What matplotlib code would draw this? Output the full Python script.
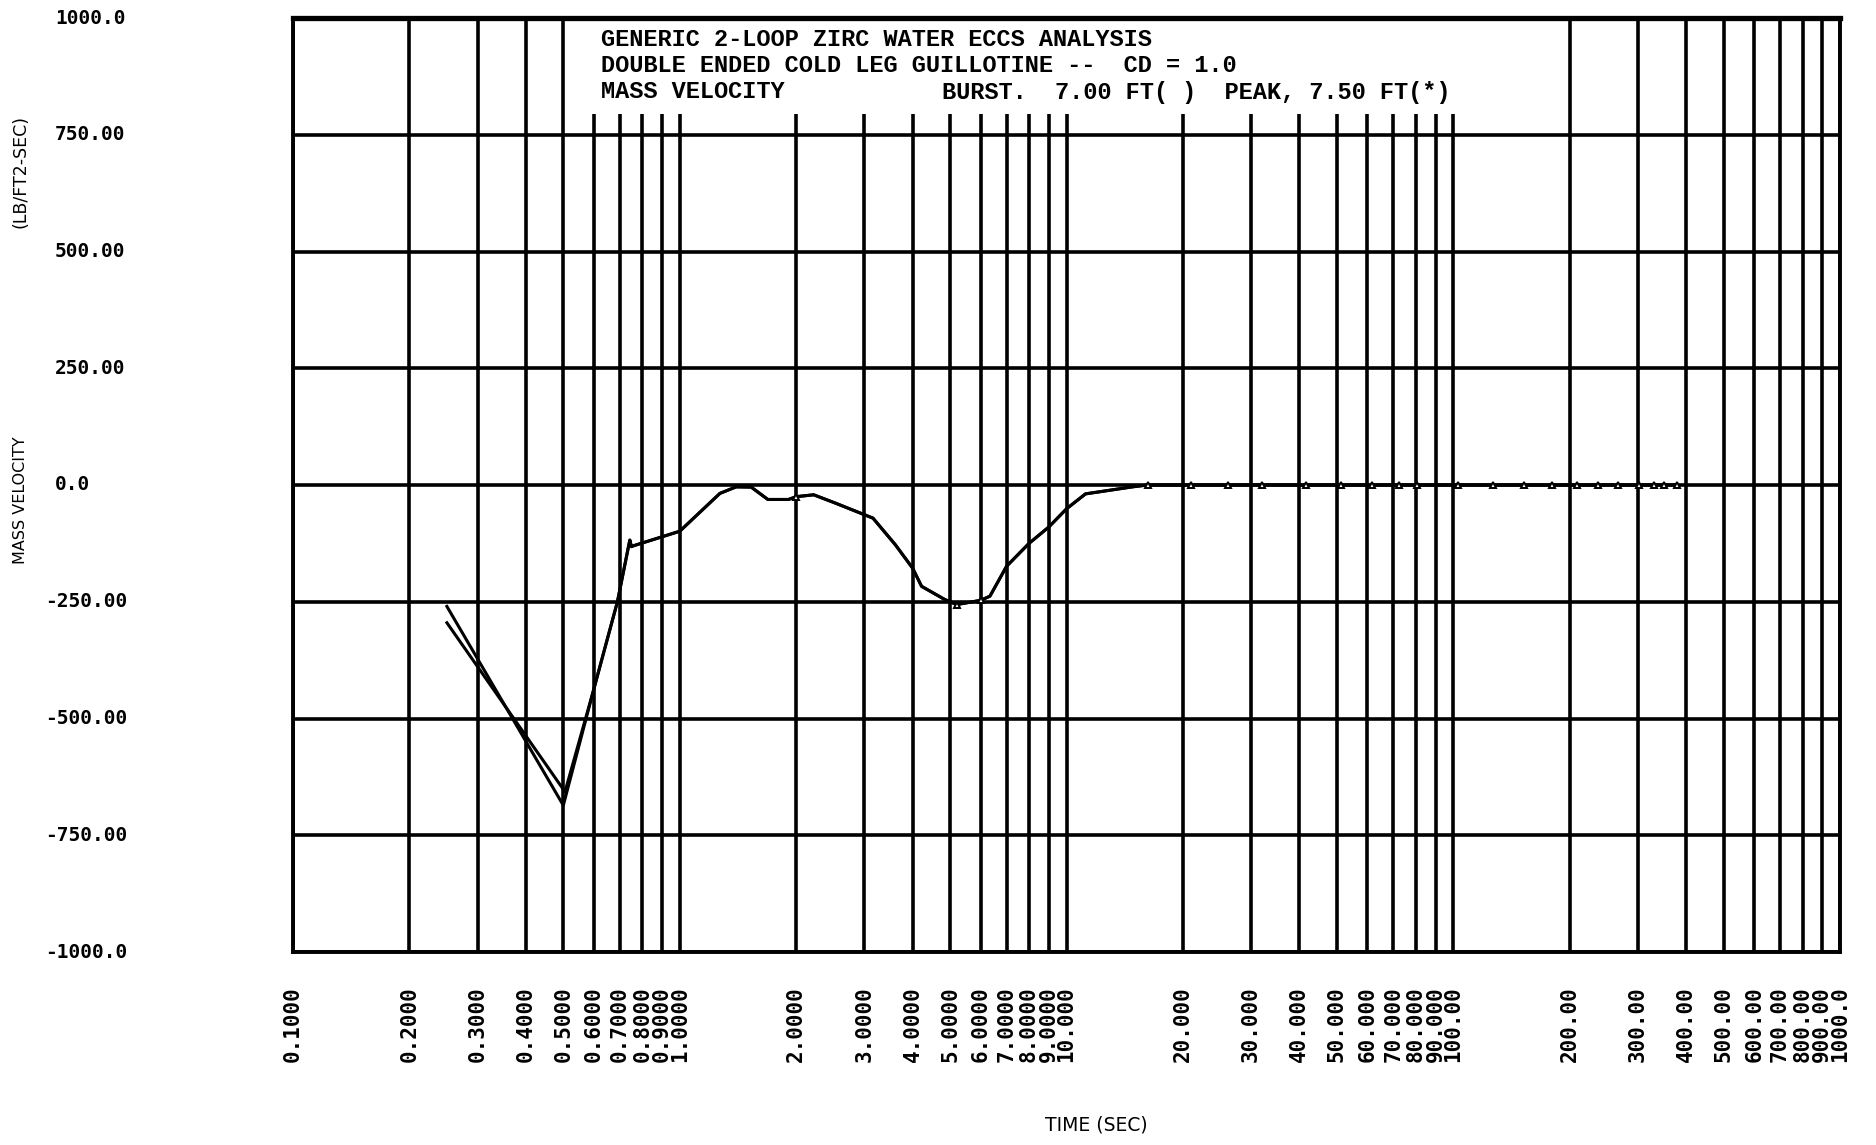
import matplotlib
matplotlib.use('Agg')
import matplotlib.pyplot as plt
import matplotlib.transforms as mtransforms
from matplotlib.patches import Rectangle
from matplotlib.ticker import NullLocator

# axis ticks
time_ticks = [0.1, 0.2, 0.3, 0.4, 0.5, 0.6, 0.7, 0.8, 0.9,
              1.0, 2.0, 3.0, 4.0, 5.0, 6.0, 7.0, 8.0, 9.0,
              10.0, 20.0, 30.0, 40.0, 50.0, 60.0, 70.0, 80.0, 90.0,
              100.0, 200.0, 300.0, 400.0, 500.0, 600.0, 700.0, 800.0, 900.0, 1000.0]
time_labels = ['0.1000', '0.2000', '0.3000', '0.4000', '0.5000', '0.6000', '0.7000', '0.8000', '0.9000',
               '1.0000', '2.0000', '3.0000', '4.0000', '5.0000', '6.0000', '7.0000', '8.0000', '9.0000',
               '10.000', '20.000', '30.000', '40.000', '50.000', '60.000', '70.000', '80.000', '90.000',
               '100.00', '200.00', '300.00', '400.00', '500.00', '600.00', '700.00', '800.00', '900.00', '1000.0']
vel_ticks = [1000, 750, 500, 250, 0, -250, -500, -750, -1000]
vel_labels = ['1000.0', '750.00', '500.00', '250.00', '0.0', '-250.00', '-500.00', '-750.00', '-1000.0']

# start of the two curves (they split only in the first half second)
burst_start_t = [0.25, 0.50]
burst_start_g = [-260, -686]
peak_start_t = [0.25, 0.505]
peak_start_g = [-295, -657]

# common part of both curves
common_t = [0.6, 0.665, 0.69, 0.739, 0.743, 0.75, 0.76, 1.0, 1.27, 1.37, 1.40, 1.53, 1.69, 1.91,
            2.0, 2.22, 2.53, 3.16, 3.61, 4.0, 4.22, 4.84, 5.0, 5.2, 6.0, 6.34, 7.0, 8.0, 9.0,
            10.0, 11.2, 14.8,
            16.2, 21.0, 26.1, 32.1, 41.5, 51.3, 61.5, 72.6, 80.7, 102.8, 127, 152, 180,
            209, 237, 267, 302, 330, 351, 378]
common_g = [-436, -299, -250, -127, -118, -132, -130, -99, -18, -7, -4, -4.5, -31, -31,
            -25, -21, -39, -71, -128, -178, -217, -245, -250, -256, -247, -238, -174, -125, -90,
            -51, -19, -4,
            0, 0, 0, 0, 0, 0, 0, 0, 0, 0, 0, 0, 0,
            0, 0, 0, 0, 0, 0, 0]
# times where the peak curve symbol shows
peak_symbol_t = [2.0, 5.2, 6.0, 16.2, 21.0, 26.1, 32.1, 41.5, 51.3, 61.5, 72.6, 80.7,
                 102.8, 127, 152, 180, 209, 237, 267, 302, 330, 351, 378]

burst_t = burst_start_t + common_t
burst_g = burst_start_g + common_g
peak_t = peak_start_t + common_t
peak_g = peak_start_g + common_g
mark_idx = [i for i, t in enumerate(peak_t) if t in peak_symbol_t]

mono = ['DejaVu Sans Mono']
title_font = ['Liberation Mono', 'DejaVu Sans Mono']

fig = plt.figure(figsize=(18.76, 11.45), dpi=100)
ax = fig.add_axes([293 / 1876, 1 - 952 / 1145, (1840 - 293) / 1876, (952 - 18) / 1145])

ax.set_xscale('log')
ax.set_xlim(0.1, 1000)
ax.set_ylim(-1000, 1000)
ax.set_xticks(time_ticks)
ax.set_xticklabels(time_labels, rotation=90, family=mono, fontsize=15, fontweight='bold')
ax.xaxis.set_minor_locator(NullLocator())
ax.set_yticks(vel_ticks)
ax.set_yticklabels([])
ax.tick_params(axis='x', length=0, pad=25)
ax.tick_params(axis='y', length=0)
ax.set_axisbelow(True)
ax.grid(True, which='major', color='black', lw=2.6)
for s in ax.spines.values():
    s.set_linewidth(2.8)
ax.spines['top'].set_linewidth(3.8)

# blank area behind the title block
ax.add_patch(Rectangle((0.55, 795), 120 - 0.55, 205, facecolor='white',
                       edgecolor='none', zorder=1))

ax.plot(burst_t, burst_g, color='black', lw=2.2, zorder=3)
ax.plot(peak_t, peak_g, color='black', lw=2.2, zorder=3,
        marker='^', markevery=mark_idx, markersize=5,
        markerfacecolor='white', markeredgecolor='black', markeredgewidth=1.4)

# y tick labels at far left
tr = mtransforms.blended_transform_factory(fig.transFigure, ax.transData)
for v, lab in zip(vel_ticks, vel_labels):
    x = 45 if lab.startswith('-') else 55
    ax.text(x / 1876, v, lab, transform=tr, ha='left', va='center',
            family=mono, fontsize=14, fontweight='bold')

# title block
W, H = 1876.0, 1145.0
fig.text(601 / W, 1 - 40 / H, 'GENERIC 2-LOOP ZIRC WATER ECCS ANALYSIS',
         family=title_font, fontsize=17, fontweight='bold', va='center', ha='left')
fig.text(601 / W, 1 - 66 / H, 'DOUBLE ENDED COLD LEG GUILLOTINE --  CD = 1.0',
         family=title_font, fontsize=17, fontweight='bold', va='center', ha='left')
fig.text(601 / W, 1 - 92 / H, 'MASS VELOCITY',
         family=title_font, fontsize=17, fontweight='bold', va='center', ha='left')
fig.text(1450 / W, 1 - 92 / H, 'BURST.  7.00 FT( )  PEAK, 7.50 FT(*)',
         family=title_font, fontsize=17, fontweight='bold', va='center', ha='right')

# axis titles
fig.text(21 / W, 1 - 500 / H, 'MASS VELOCITY', rotation=90, family='DejaVu Sans',
         fontsize=11.5, va='center', ha='center')
fig.text(21 / W, 1 - 171 / H, '(LB/FT2-SEC)', rotation=90, family='DejaVu Sans',
         fontsize=12.5, va='center', ha='center')
fig.text(1096 / W, 1 - 1125 / H, 'TIME (SEC)', family='DejaVu Sans',
         fontsize=13.5, va='center', ha='center')

fig.savefig('out.png', dpi=100)
